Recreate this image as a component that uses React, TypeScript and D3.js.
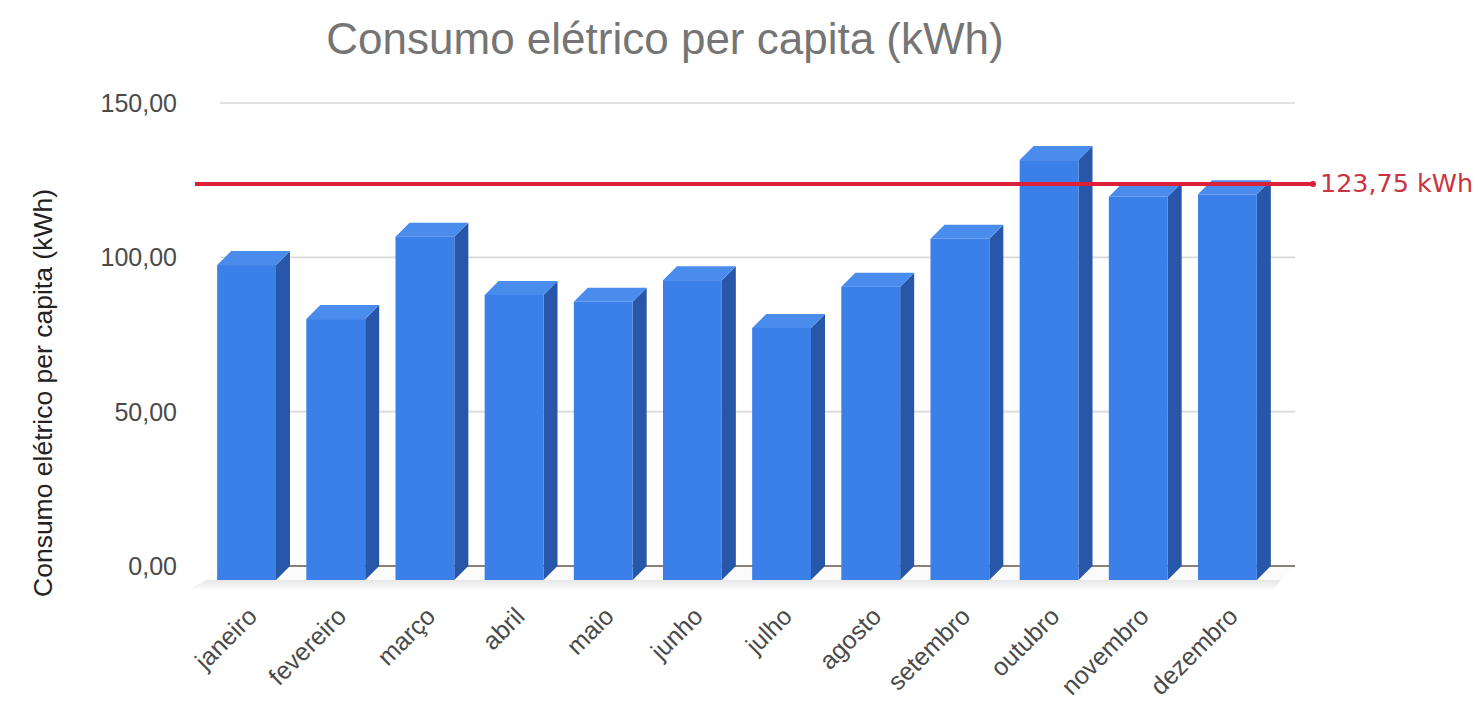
import React from "react";
import * as d3 from "d3";

const months = ["janeiro","fevereiro","março","abril","maio","junho","julho","agosto","setembro","outubro","novembro","dezembro"];
const consumo = [97.5, 80, 106.7, 87.8, 85.6, 92.6, 77.1, 90.5, 106, 131.5, 119.6, 120.4];
const yTicks = [0, 50, 100, 150];
const referencia = 123.75;
const referenciaLabel = "123,75 kWh";
const title = "Consumo elétrico per capita (kWh)";
const yTitle = "Consumo elétrico per capita (kWh)";

const W = 1481, H = 703;
const DEPTH = 14;

export default function App() {
  const y = d3.scaleLinear().domain([0, 150]).range([566, 103]);
  const x = d3.scaleBand<string>().domain(months).range([202, 1272]).paddingInner(0.34).paddingOuter(0.17);
  const bw = x.bandwidth();
  const gx0 = 220, gx1 = 1295;
  const fmt = (v: number) => v.toFixed(2).replace(".", ",");
  const y0 = y(0);

  return (
    <svg width={W} height={H} style={{ position: "absolute", left: 0, top: 0, background: "#fff" }}
      fontFamily="'Liberation Sans', Arial, sans-serif">
      <defs>
        <linearGradient id="shadow" x1="0" x2="0" y1="0" y2="1">
          <stop offset="0" stopColor="#e6e6e6" />
          <stop offset="1" stopColor="#ffffff" />
        </linearGradient>
      </defs>
      <text x={665} y={54} textAnchor="middle" fontSize={44} fill="#757575">{title}</text>

      {/* floor */}
      <polygon points={`${gx0},${y0} ${gx1},${y0} ${gx1 - DEPTH},${y0 + DEPTH} ${gx0 - DEPTH},${y0 + DEPTH}`} fill="#fbfbfb" />
      <polygon points={`${gx0 - DEPTH},${y0 + DEPTH} ${gx1 - DEPTH},${y0 + DEPTH} ${gx1 - DEPTH - 8},${y0 + DEPTH + 11} ${gx0 - DEPTH - 20},${y0 + DEPTH + 11}`} fill="url(#shadow)" />

      {/* gridlines */}
      {yTicks.map(t => (
        <line key={t} x1={gx0} x2={gx1} y1={y(t)} y2={y(t)} stroke={t === 0 ? "#8a8076" : "#d9d9d9"} strokeWidth={t === 0 ? 2 : 1.6} />
      ))}
      {yTicks.map(t => (
        <text key={"l" + t} x={177} y={y(t)} textAnchor="end" dominantBaseline="central" fontSize={25} fill="#4a4a4a">{fmt(t)}</text>
      ))}

      <text transform={`translate(52,393) rotate(-90)`} textAnchor="middle" fontSize={26.5} fill="#222">{yTitle}</text>

      {/* bars */}
      {months.map((m, i) => {
        const x0 = x(m)!;
        const top = y(consumo[i]);
        const bot = y0 + DEPTH;
        return (
          <g key={m}>
            <polygon points={`${x0 + bw},${top} ${x0 + bw + DEPTH},${top - DEPTH} ${x0 + bw + DEPTH},${y0} ${x0 + bw},${bot}`} fill="#2856a8" />
            <polygon points={`${x0},${top} ${x0 + DEPTH},${top - DEPTH} ${x0 + bw + DEPTH},${top - DEPTH} ${x0 + bw},${top}`} fill="#4a8cec" />
            <rect x={x0} y={top} width={bw} height={bot - top} fill="#3b7fe8" />
          </g>
        );
      })}

      {/* x labels */}
      {months.map(m => (
        <text key={"x" + m} transform={`translate(${x(m)! + bw / 2 + 12},618) rotate(-45)`} textAnchor="end" fontSize={25} fill="#4a4a4a">{m}</text>
      ))}

      {/* reference line */}
      <line x1={195} x2={1313} y1={y(referencia)} y2={y(referencia)} stroke="#dc1f3a" strokeWidth={4} />
      <circle cx={1313} cy={y(referencia)} r={3} fill="#dc1f3a" />
      <text x={1320} y={y(referencia)} dominantBaseline="central" fontSize={24} fill="#cc3340"
        fontFamily="'DejaVu Sans', sans-serif" textLength={153} lengthAdjust="spacingAndGlyphs">{referenciaLabel}</text>
    </svg>
  );
}
